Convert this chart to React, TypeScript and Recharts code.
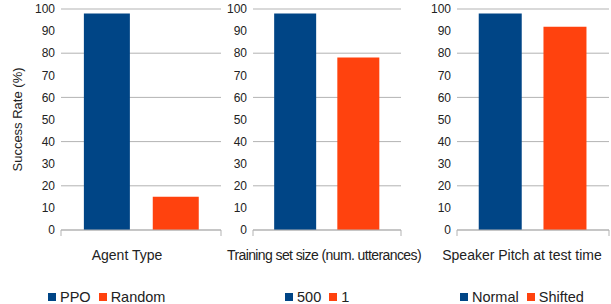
import React from 'react';
import {
  BarChart,
  Bar,
  XAxis,
  YAxis,
  CartesianGrid,
  Legend,
} from 'recharts';

const categories = [
  'Agent Type',
  'Training set size (num. utterances)',
  'Speaker Pitch at test time',
];
const agentSeries = ['PPO', 'Random'];
const agentValues = [98, 15];
const trainingSeries = ['500', '1'];
const trainingValues = [98, 78];
const pitchSeries = ['Normal', 'Shifted'];
const pitchValues = [98, 92];
const yTicks = [0, 10, 20, 30, 40, 50, 60, 70, 80, 90, 100];

const COLORS = ['#004586', '#ff420e'];
const GRID = '#b3b3b3';
const FONT = '"Liberation Sans", Arial, sans-serif';
const HEIGHT = 304;

// panel layout: left offset on the page, chart width, y axis width, right margin
const panels = [
  { left: 0, width: 228, axisWidth: 61, right: 7, legendLeft: 48, labelShift: -14, labelSpacing: 0, series: agentSeries, values: agentValues, showTitle: true },
  { left: 222, width: 182, axisWidth: 31, right: 3, legendLeft: 63, labelShift: -3, labelSpacing: -0.6, series: trainingSeries, values: trainingValues, showTitle: false },
  { left: 424, width: 187, axisWidth: 33, right: 2, legendLeft: 36, labelShift: -11, labelSpacing: 0, series: pitchSeries, values: pitchValues, showTitle: false },
];

function CategoryTick({ x, y, payload, half, shift, spacing }: any) {
  return (
    <g>
      <line x1={x - half} x2={x - half} y1={y} y2={y + 6} stroke={GRID} />
      <line x1={x + half} x2={x + half} y1={y} y2={y + 6} stroke={GRID} />
      <text
        x={x + shift}
        y={y + 30}
        textAnchor="middle"
        fontSize={14}
        fill="#222"
        fontFamily={FONT}
        letterSpacing={spacing}
      >
        {payload.value}
      </text>
    </g>
  );
}

function LegendContent({ payload }: any) {
  return (
    <div style={{ display: 'flex', alignItems: 'center', height: 20, paddingTop: 3, fontFamily: FONT, fontSize: 14.5, color: '#222', whiteSpace: 'nowrap' }}>
      {(payload || []).map((item: any, i: number) => (
        <div key={i} style={{ display: 'flex', alignItems: 'center', marginRight: 8 }}>
          <span style={{ display: 'inline-block', width: 8, height: 8, background: item.color, marginRight: 4 }} />
          <span>{item.value}</span>
        </div>
      ))}
    </div>
  );
}

function Panel({ index }: { index: number }) {
  const p = panels[index];
  const row: any = { name: categories[index] };
  p.values.forEach((v, i) => {
    row[`s${i}`] = v;
  });
  const data = [row];
  const half = (p.width - p.axisWidth - p.right) / 2;

  return (
    <div style={{ position: 'absolute', left: p.left, top: 0 }}>
      <BarChart
        width={p.width}
        height={HEIGHT}
        data={data}
        margin={{ top: 9, right: p.right, bottom: 0, left: 0 }}
        barCategoryGap="14.3%"
        barGap="14.3%"
      >
        <CartesianGrid vertical={false} stroke={GRID} />
        <XAxis
          dataKey="name"
          interval={0}
          height={54}
          axisLine={{ stroke: GRID }}
          tickLine={false}
          tickSize={0}
          tickMargin={0}
          tick={<CategoryTick half={half} shift={p.labelShift} spacing={p.labelSpacing} />}
        />
        <YAxis
          width={p.axisWidth}
          domain={[0, 100]}
          ticks={yTicks}
          axisLine={false}
          tickLine={false}
          tickSize={4}
          tickMargin={2}
          tick={{ fontSize: 12, fill: '#222', fontFamily: FONT }}
          label={
            p.showTitle
              ? {
                  value: 'Success Rate (%)',
                  angle: -90,
                  position: 'insideLeft',
                  offset: 17,
                  style: { textAnchor: 'middle', fontSize: 13, fill: '#222', fontFamily: FONT },
                }
              : undefined
          }
        />
        <Legend
          verticalAlign="bottom"
          height={20}
          itemSorter="dataKey"
          content={<LegendContent />}
          wrapperStyle={{ left: p.legendLeft, width: 'auto', bottom: 0 }}
        />
        {p.series.map((s, i) => (
          <Bar
            key={s}
            dataKey={`s${i}`}
            name={s}
            fill={COLORS[i]}
            isAnimationActive={false}
          />
        ))}
      </BarChart>
    </div>
  );
}

export default function App() {
  return (
    <div
      style={{
        position: 'absolute',
        left: 0,
        top: 0,
        width: 611,
        height: HEIGHT,
        background: '#fff',
        overflow: 'hidden',
      }}
    >
      <style>{'.recharts-surface { overflow: visible; }'}</style>
      {panels.map((_, i) => (
        <Panel key={i} index={i} />
      ))}
    </div>
  );
}
